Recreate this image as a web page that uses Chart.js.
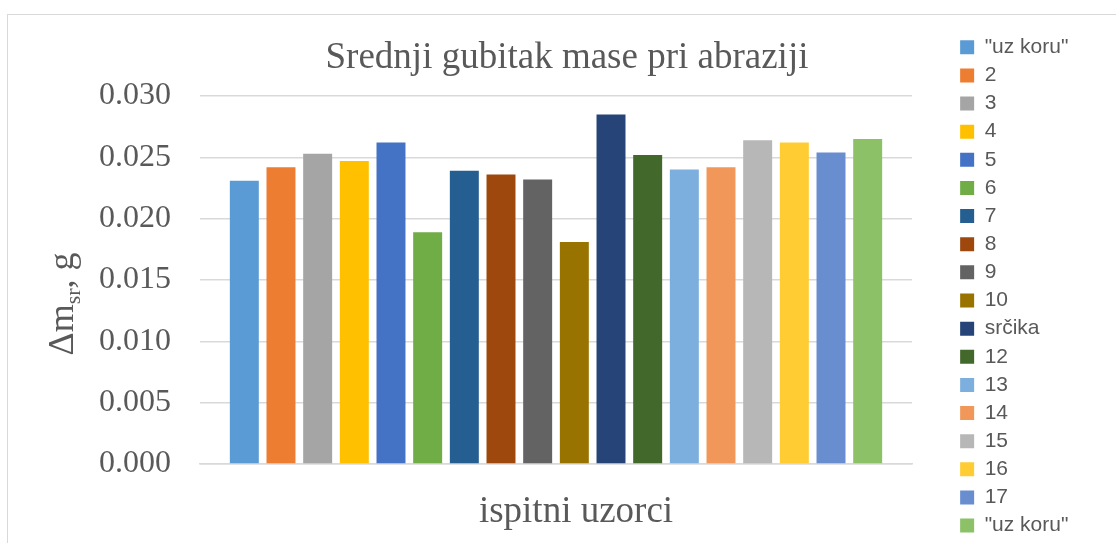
<!DOCTYPE html>
<html><head><meta charset="utf-8">
<script src="https://cdn.jsdelivr.net/npm/chart.js@4.4.1/dist/chart.umd.min.js"></script>
<style>html,body{margin:0;padding:0;background:#fff}#wrap{width:1116px;height:543px;position:relative}</style>
</head><body><div id="wrap"><canvas id="c"></canvas></div>
<script>
const chartTitle = 'Srednji gubitak mase pri abraziji';
const xAxisTitle = 'ispitni uzorci';
const yAxisTitleMain = 'Δm';
const yAxisTitleSub = 'sr';
const yAxisTitleTail = ', g';
const categories = [''];
const seriesNames = ['"uz koru"','2','3','4','5','6','7','8','9','10','srčika','12','13','14','15','16','17','"uz koru"'];
const seriesValues = [0.0231,0.0242,0.0253,0.0247,0.0262,0.0189,0.0239,0.0236,0.0232,0.0181,0.0285,0.0252,0.0240,0.0242,0.0264,0.0262,0.0254,0.0265];
const seriesColors = ['#5B9BD5','#ED7D31','#A5A5A5','#FFC000','#4472C4','#70AD47','#255E91','#9E480E','#636363','#997300','#264478','#43682B','#7CAFDD','#F1975A','#B7B7B7','#FFCD33','#698ED0','#8CC168'];
const yMin = 0, yMax = 0.03, yStep = 0.005;

const TEXT = '#595959';
const GRID = '#d9d9d9';
const SERIF = "'Liberation Serif', 'Times New Roman', serif";
const SANS = "'Liberation Sans', Arial, sans-serif";

const frame = {
  id: 'frame',
  beforeDraw(chart) {
    const ctx = chart.ctx;
    ctx.save();
    ctx.strokeStyle = GRID; ctx.lineWidth = 1;
    ctx.strokeRect(7.5, 14.5, 1300, 700);
    ctx.restore();
  }
};

const legendPlace = {
  id: 'legendPlace',
  beforeLayout(chart) {
    const lg = chart.legend;
    if (lg && !lg._wrappedFit) {
      const f = lg.fit;
      lg.fit = function () { this.maxHeight = 600; f.call(this); this.width = 204; };
      lg._wrappedFit = true;
    }
  },
  afterLayout(chart) {
    const lg = chart.legend;
    if (!lg) return;
    const w = lg.width;
    lg.left = 953; lg.right = 953 + w;
    lg.top = 29.6; lg.bottom = 29.6 + 520;
  }
};

const axisTitles = {
  id: 'axisTitles',
  afterDraw(chart) {
    const ctx = chart.ctx, ca = chart.chartArea;
    ctx.save();
    ctx.fillStyle = TEXT;
    ctx.font = '37px ' + SERIF;
    ctx.textAlign = 'center';
    ctx.textBaseline = 'middle';
    ctx.fillText(xAxisTitle, (ca.left + ca.right) / 2 + 20, 512);
    // y title with subscript
    ctx.translate(73, 304);
    ctx.rotate(-Math.PI / 2);
    ctx.textAlign = 'left';
    ctx.textBaseline = 'alphabetic';
    const mainFont = '36px ' + SERIF, subFont = '22px ' + SERIF;
    ctx.font = mainFont; const w1 = ctx.measureText(yAxisTitleMain).width;
    const w3 = ctx.measureText(yAxisTitleTail).width;
    ctx.font = subFont; const w2 = ctx.measureText(yAxisTitleSub).width;
    let x = -(w1 + w2 + w3) / 2;
    ctx.font = mainFont; ctx.fillText(yAxisTitleMain, x, 0); x += w1;
    ctx.font = subFont; ctx.fillText(yAxisTitleSub, x, 7); x += w2;
    ctx.font = mainFont; ctx.fillText(yAxisTitleTail, x, 0);
    ctx.restore();
  }
};

const datasets = seriesNames.map((name, i) => ({
  label: name,
  data: [seriesValues[i]],
  backgroundColor: seriesColors[i],
  borderWidth: 0,
  categoryPercentage: 0.927,
  barPercentage: 0.79
}));

new Chart(document.getElementById('c'), {
  type: 'bar',
  data: { labels: categories, datasets },
  options: {
    responsive: true,
    maintainAspectRatio: false,
    devicePixelRatio: 1,
    animation: false,
    layout: { padding: { left: 18, right: 0, top: 0, bottom: 71 } },
    plugins: {
      title: {
        display: true, text: chartTitle, color: TEXT,
        font: { family: SERIF, size: 37, weight: 'normal' },
        padding: { top: 36, bottom: 15.6 }
      },
      legend: {
        position: 'right', align: 'start',
        labels: {
          color: TEXT, boxWidth: 14, boxHeight: 14, padding: 7.14,
          font: { family: SANS, size: 21 }
        }
      },
      tooltip: { enabled: false }
    },
    scales: {
      x: {
        grid: { display: false },
        border: { display: true, color: GRID, width: 1.5 },
        ticks: { display: false }
      },
      y: {
        min: yMin, max: yMax,
        afterFit(scale) { scale.width = 182; },
        ticks: {
          stepSize: yStep, color: TEXT, padding: 29,
          font: { family: SERIF, size: 32 },
          callback: v => Number(v).toFixed(3)
        },
        grid: { color: GRID, lineWidth: 1.5, drawTicks: false },
        border: { display: false }
      }
    }
  },
  plugins: [frame, legendPlace, axisTitles]
});
</script>
</body></html>
